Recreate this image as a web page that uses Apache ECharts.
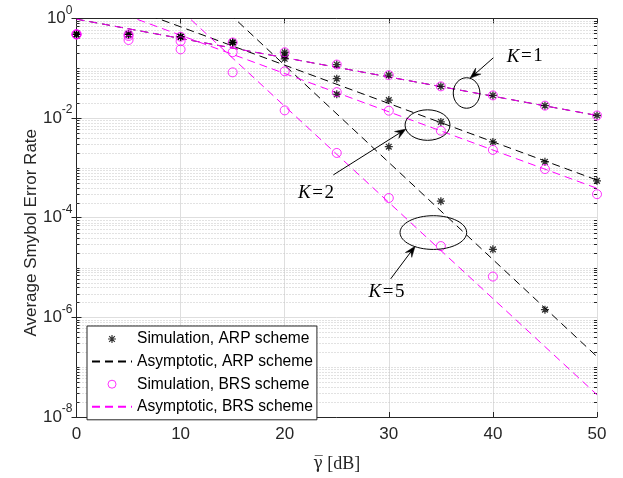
<!DOCTYPE html>
<html><head><meta charset="utf-8">
<script src="https://cdn.jsdelivr.net/npm/echarts@6/dist/echarts.min.js"></script>
<style>html,body{margin:0;padding:0;background:#fff}#c{width:623px;height:478px}</style>
</head><body><div id="c"></div>
<script>
// ---- data ----
const snrDb = [0, 5, 10, 15, 20, 25, 30, 35, 40, 45, 50];
const simArpK1 = [0.48, 0.48, 0.43, 0.33, 0.21, 0.119, 0.073, 0.0434, 0.0286, 0.0178, 0.0113];
const simBrsK1 = [0.48, 0.48, 0.43, 0.33, 0.21, 0.119, 0.073, 0.0434, 0.0286, 0.0178, 0.0113];
const simArpK2 = [0.48, 0.48, 0.43, 0.33, 0.18, 0.062, 0.023, 0.0084, 0.00333, 0.00133, 0.00055];
const simBrsK2 = [0.48, 0.445, 0.35, 0.21, 0.087, 0.0333, 0.0141, 0.0056, 0.0023, 0.00095, 0.000297];
const simArpK5 = [0.48, 0.48, 0.43, 0.33, 0.155, 0.030, 0.00267, 0.000215, 0.0000232, 0.00000143, null];
const simBrsK5 = [0.48, 0.37, 0.24, 0.083, 0.0143, 0.0020, 0.000249, 0.000027, 0.0000066, null, null];

const asymDb = [0, 50];
const asymArpK1 = [0.97, 0.0113];
const asymBrsK1 = [0.97, 0.0113];
const asymArpK2 = [4.0, 0.00057];
const asymBrsK2 = [2.7, 0.00039];
const asymArpK5 = [912, 1.63e-7];
const asymBrsK5 = [126, 2.8e-8];

const xTickLabels = ['0', '10', '20', '30', '40', '50'];
const yTickExponents = [0, -2, -4, -6, -8];
const legendNames = ['Simulation, ARP scheme', 'Asymptotic, ARP scheme', 'Simulation, BRS scheme', 'Asymptotic, BRS scheme'];

// annotations in data coordinates: [xMin, xMax, yTop, yBottom]
const ellipseK1 = [36.19, 38.75, Math.pow(10, -1.189), Math.pow(10, -1.802)];
const ellipseK2 = [31.56, 35.88, Math.pow(10, -1.833), Math.pow(10, -2.446)];
const ellipseK5 = [31.08, 37.48, Math.pow(10, -3.959), Math.pow(10, -4.636)];
// arrows: [tailX, tailY, tipX, tipY]
const arrowK1 = [40.04, Math.pow(10, -0.789), 37.80, Math.pow(10, -1.202)];
const arrowK2 = [24.67, Math.pow(10, -3.14), 31.65, Math.pow(10, -2.219)];
const arrowK5 = [30.18, Math.pow(10, -5.227), 32.53, Math.pow(10, -4.57)];
// labels: [x, y, text]
const labelK1 = [43.06, Math.pow(10, -0.763), '1'];
const labelK2 = [23.0, Math.pow(10, -3.507), '2'];
const labelK5 = [29.78, Math.pow(10, -5.498), '5'];

// ---- minor log ticks (axis structure) ----
const minorVals = [];
for (let e = -8; e < 0; e++) {
  for (let m = 1; m <= 9; m++) {
    if (m === 1 && e % 2 === 0) continue;
    minorVals.push(m * Math.pow(10, e));
  }
}

const AX = '#262626';
const MAG = '#ff00ff';
const asterisk = 'path://M0,-10L0,10M-10,0L10,0M-7.07,-7.07L7.07,7.07M-7.07,7.07L7.07,-7.07';
const pairs = (xs, ys) => xs.map((x, i) => [x, ys[i]]).filter(p => p[1] != null);

function asymSeries(name, ys, color) {
  return {
    type: 'line', name: name, data: pairs(asymDb, ys), symbol: 'none', clip: true,
    lineStyle: { color: color, width: 1, type: [8, 5] }, itemStyle: { color: color },
    animation: false, silent: true, z: 3
  };
}
function simArp(ys) {
  return {
    type: 'scatter', name: legendNames[0], data: pairs(snrDb, ys), symbol: asterisk, symbolSize: 8,
    itemStyle: { color: '#000', borderColor: '#000', borderWidth: 1.3 }, animation: false, silent: true, z: 4
  };
}
function simBrs(ys) {
  return {
    type: 'scatter', name: legendNames[2], data: pairs(snrDb, ys), symbol: 'circle', symbolSize: 9,
    itemStyle: { color: 'rgba(255,255,255,0)', borderColor: MAG, borderWidth: 1 }, animation: false, silent: true, z: 5
  };
}

const chart = echarts.init(document.getElementById('c'), null, { renderer: 'canvas' });
const grid = { left: 76.5, right: 26, top: 8.5, bottom: 55.7, containLabel: false };

const option = {
  backgroundColor: '#fff',
  animation: false,
  grid: grid,
  xAxis: [{
    type: 'value', min: 0, max: 50, interval: 10, position: 'bottom',
    axisLine: { show: true, lineStyle: { color: AX, width: 1 } },
    axisTick: { show: true, inside: true, length: 5, lineStyle: { color: AX } },
    axisLabel: { show: true, color: AX, fontSize: 17, fontFamily: 'Liberation Sans, Arial', margin: 9,
      formatter: v => xTickLabels[Math.round(v / 10)] },
    splitLine: { show: true, lineStyle: { color: '#dedede', width: 1 } },
    name: '{g|γ\u0305}{n| [dB]}', nameLocation: 'middle', nameGap: 38,
    nameTextStyle: { rich: {
      g: { fontFamily: 'DejaVu Serif', fontSize: 16, color: AX },
      n: { fontFamily: 'Liberation Serif', fontSize: 18, color: AX } } }
  }, {
    type: 'value', min: 0, max: 50, interval: 10, position: 'top',
    axisLine: { show: true, lineStyle: { color: AX, width: 1 } },
    axisTick: { show: true, inside: true, length: 5, lineStyle: { color: AX } },
    axisLabel: { show: false }, splitLine: { show: false }
  }],
  yAxis: [{
    type: 'log', logBase: 10, min: 1e-8, max: 1, interval: 2, position: 'left',
    axisLine: { show: true, lineStyle: { color: AX, width: 1 } },
    axisTick: { show: true, inside: true, length: 5, lineStyle: { color: AX } },
    axisLabel: { show: true, color: AX, margin: 4, fontFamily: 'Liberation Sans, Arial',
      formatter: v => {
        const e = Math.round(Math.log10(v));
        if (yTickExponents.indexOf(e) < 0) return '';
        return '{b|10}{s|' + (e < 0 ? '-' + (-e) : e) + '}';
      },
      rich: {
        b: { fontSize: 17, lineHeight: 17, padding: [10, 0, 0, 0], verticalAlign: 'bottom', color: AX, fontFamily: 'Liberation Sans, Arial' },
        s: { fontSize: 12, lineHeight: 12, padding: [0, 0, 10.5, 0], verticalAlign: 'bottom', color: AX, fontFamily: 'Liberation Sans, Arial' }
      } },
    splitLine: { show: true, lineStyle: { color: '#dedede', width: 1 } }
  }, {
    type: 'log', logBase: 10, min: 1e-8, max: 1, interval: 2, position: 'right',
    axisLine: { show: true, lineStyle: { color: AX, width: 1 } },
    axisTick: { show: true, inside: true, length: 5, lineStyle: { color: AX } },
    axisLabel: { show: false }, splitLine: { show: false }
  }],
  legend: {
    data: [
      { name: legendNames[0], itemStyle: { color: '#000', borderColor: '#000', borderWidth: 1.2 } },
      { name: legendNames[1], itemStyle: { opacity: 0 } },
      { name: legendNames[2], itemStyle: { color: 'rgba(255,255,255,0)', borderColor: MAG, borderWidth: 1 } },
      { name: legendNames[3], itemStyle: { opacity: 0 } }
    ],
    orient: 'vertical', left: 87, top: 326,
    backgroundColor: '#fff', borderColor: AX, borderWidth: 1, borderRadius: 0,
    padding: [5, 4, 5, 4], itemGap: 6.6, itemWidth: 40, itemHeight: 8,
    textStyle: { fontSize: 15.6, lineHeight: 14, color: '#000', fontFamily: 'Liberation Sans, Arial' },
    selectedMode: false
  },
  series: [
    {
      type: 'custom', name: 'minor', silent: true, z: 1, animation: false,
      data: minorVals.map(v => [0, v]),
      renderItem: (params, api) => {
        const v = api.value(1);
        const p0 = api.coord([0, v]);
        const p1 = api.coord([50, v]);
        const y = Math.round(p0[1]) + 0.5;
        return { type: 'group', children: [
          { type: 'line', shape: { x1: p0[0], y1: y, x2: p1[0], y2: y }, style: { stroke: '#c4c4c4', lineDash: [1, 2], lineWidth: 1 } },
          { type: 'line', shape: { x1: p0[0], y1: y, x2: p0[0] + 3, y2: y }, style: { stroke: AX, lineWidth: 1 } },
          { type: 'line', shape: { x1: p1[0] - 3, y1: y, x2: p1[0], y2: y }, style: { stroke: AX, lineWidth: 1 } }
        ] };
      }
    },
    asymSeries(legendNames[1], asymArpK1, '#000'),
    asymSeries(legendNames[1], asymArpK2, '#000'),
    asymSeries(legendNames[1], asymArpK5, '#000'),
    asymSeries(legendNames[3], asymBrsK1, MAG),
    asymSeries(legendNames[3], asymBrsK2, MAG),
    asymSeries(legendNames[3], asymBrsK5, MAG),
    simArp(simArpK1), simArp(simArpK2), simArp(simArpK5),
    simBrs(simBrsK1), simBrs(simBrsK2), simBrs(simBrsK5)
  ]
};
chart.setOption(option);

// ---- annotations placed through the chart's own scales ----
const px = (x, y) => chart.convertToPixel({ gridIndex: 0 }, [x, y]);
const gfx = [];
[ellipseK1, ellipseK2, ellipseK5].forEach(b => {
  const a = px(b[0], b[2]), c = px(b[1], b[3]);
  gfx.push({ type: 'ellipse', z: 50, silent: true,
    shape: { cx: (a[0] + c[0]) / 2, cy: (a[1] + c[1]) / 2, rx: Math.abs(c[0] - a[0]) / 2, ry: Math.abs(c[1] - a[1]) / 2 },
    style: { fill: null, stroke: '#000', lineWidth: 1 } });
});
[arrowK1, arrowK2, arrowK5].forEach(a => {
  const t = px(a[0], a[1]), h = px(a[2], a[3]);
  const dx = h[0] - t[0], dy = h[1] - t[1], L = Math.hypot(dx, dy);
  const ux = dx / L, uy = dy / L, nx = -uy, ny = ux;
  const len = 11, w = 4, back = 7;
  const bx = h[0] - back * ux, by = h[1] - back * uy;
  gfx.push({ type: 'line', z: 50, silent: true, shape: { x1: t[0], y1: t[1], x2: bx, y2: by }, style: { stroke: '#000', lineWidth: 1 } });
  gfx.push({ type: 'polygon', z: 50, silent: true, shape: { points: [
    [h[0], h[1]],
    [h[0] - len * ux + w * nx, h[1] - len * uy + w * ny],
    [bx, by],
    [h[0] - len * ux - w * nx, h[1] - len * uy - w * ny]
  ] }, style: { fill: '#000', stroke: '#000', lineWidth: 0.5 } });
});
[labelK1, labelK2, labelK5].forEach(l => {
  const p = px(l[0], l[1]);
  gfx.push({ type: 'text', z: 50, silent: true, x: p[0], y: p[1],
    style: { text: '{k|K}{n|\u200a=\u200a' + l[2] + '}', align: 'center', verticalAlign: 'middle',
      rich: { k: { fontFamily: 'Liberation Serif', fontStyle: 'italic', fontSize: 19, fill: '#000' },
              n: { fontFamily: 'Liberation Serif', fontSize: 19, fill: '#000' } } } });
});
const mid = px(25, 1e-4);
gfx.push({ type: 'text', z: 50, silent: true, x: 31.5, y: mid[1] + 15, rotation: Math.PI / 2,
  style: { text: 'Average Smybol Error Rate', fontFamily: 'Liberation Sans, Arial', fontSize: 17, fill: AX,
    align: 'center', verticalAlign: 'middle' } });
chart.setOption({ graphic: { elements: gfx } });
</script>
</body></html>
